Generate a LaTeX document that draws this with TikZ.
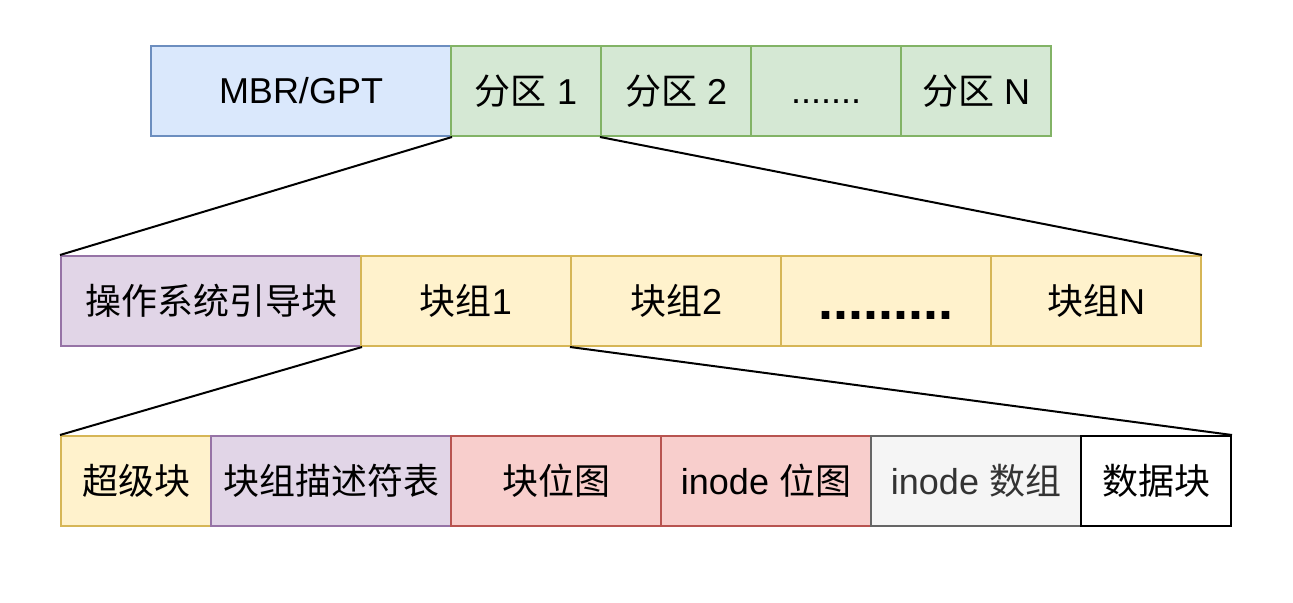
\documentclass[tikz,border=0pt]{standalone}
\usepackage{fontspec}
\setmainfont{Liberation Sans}
\newfontfamily\cjk{Noto Sans CJK SC}
\definecolor{bluefill}{HTML}{DAE8FC}
\definecolor{bluedraw}{HTML}{6C8EBF}
\definecolor{greenfill}{HTML}{D5E8D4}
\definecolor{greendraw}{HTML}{82B366}
\definecolor{purplefill}{HTML}{E1D5E7}
\definecolor{purpledraw}{HTML}{9673A6}
\definecolor{yellowfill}{HTML}{FFF2CC}
\definecolor{yellowdraw}{HTML}{D6B656}
\definecolor{redfill}{HTML}{F8CECC}
\definecolor{reddraw}{HTML}{B85450}
\definecolor{grayfill}{HTML}{F5F5F5}
\definecolor{graydraw}{HTML}{666666}
\definecolor{graytext}{HTML}{333333}
\tikzset{
  cell/.style={rectangle, line width=1pt, minimum height=45pt, inner sep=0pt,
    font=\fontsize{18}{20}\selectfont},
  blue/.style={cell, draw=bluedraw, fill=bluefill},
  green/.style={cell, draw=greendraw, fill=greenfill},
  purple/.style={cell, draw=purpledraw, fill=purplefill},
  yellow/.style={cell, draw=yellowdraw, fill=yellowfill},
  red/.style={cell, draw=reddraw, fill=redfill},
  gray/.style={cell, draw=graydraw, fill=grayfill, text=graytext},
  plain/.style={cell, draw=black, fill=white},
  zoomline/.style={draw, line width=1pt}
}
\begin{document}
\begin{tikzpicture}[x=0.5pt, y=-0.5pt]
      \useasboundingbox (0,0) rectangle (1293,603);
      % disk
      \node[blue, minimum width=150pt]   at (301, 91) (mbr) {MBR/GPT};
      \node[green, minimum width=75pt]   at (526, 91) (p1)  {{\cjk 分区} 1};
      \node[green, minimum width=75pt]   at (676, 91) (p2)  {{\cjk 分区} 2};
      \node[green, minimum width=75pt]   at (826, 91) (pd)  {\vphantom{N}.......};
      \node[green, minimum width=75pt]   at (976, 91) (pN)  {{\cjk 分区} N};
      % partition
      \node[purple, minimum width=150pt] at (211, 301) (boot) {\cjk 操作系统引导块};
      \node[yellow, minimum width=105pt] at (466, 301) (bg1)  {{\cjk 块组}1};
      \node[yellow, minimum width=105pt] at (676, 301) (bg2)  {{\cjk 块组}2};
      \node[yellow, minimum width=105pt] at (886, 301) (bgd)  {\fontsize{27}{27}\selectfont\bfseries\vphantom{N}.........};
      \node[yellow, minimum width=105pt] at (1096, 301) (bgN) {{\cjk 块组}N};
      % block group
      \node[yellow, minimum width=75pt]  at (136, 481) (sb)   {\cjk 超级块};
      \node[purple, minimum width=120pt] at (331, 481) (gdt)  {\cjk 块组描述符表};
      \node[red, minimum width=105pt]    at (556, 481) (bbm)  {\cjk 块位图};
      \node[red, minimum width=105pt]    at (766, 481) (ibm)  {inode {\cjk 位图}};
      \node[gray, minimum width=105pt]   at (976, 481) (itab) {inode {\cjk 数组}};
      \node[plain, minimum width=75pt]   at (1156, 481) (data) {\cjk 数据块};
      \path[zoomline] (mbr.south east) -- (boot.north west);
      \path[zoomline] (p2.south west) -- (bgN.north east);
      \path[zoomline] (boot.south east) -- (sb.north west);
      \path[zoomline] (bg2.south west) -- (data.north east);
    \end{tikzpicture}
\end{document}
